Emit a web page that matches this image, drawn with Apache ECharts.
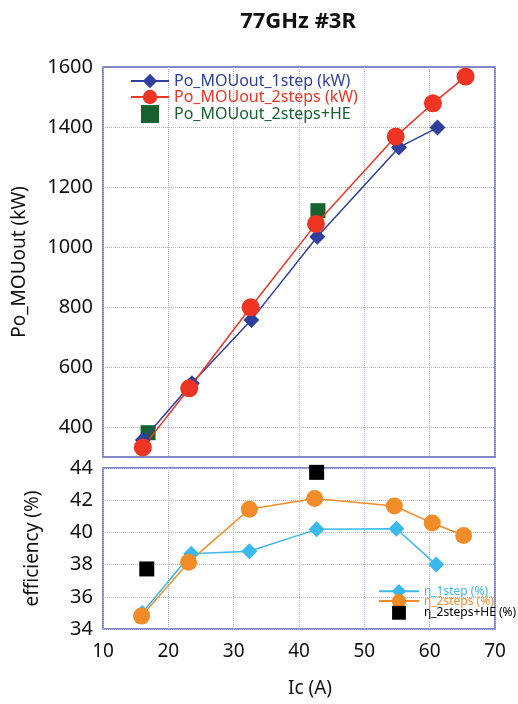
<!DOCTYPE html>
<html><head><meta charset="utf-8">
<script src="https://cdn.jsdelivr.net/npm/echarts@6/dist/echarts.min.js"></script>
<style>html,body{margin:0;padding:0;background:#fff}#c{width:518px;height:704px}</style>
</head><body><div id="c"></div>
<script>
const titleText = '77GHz #3R';
const xTicks = [10, 20, 30, 40, 50, 60, 70];
const powerTicks = [400, 600, 800, 1000, 1200, 1400, 1600];
const effTicks = [34, 36, 38, 40, 42, 44];
// Power (kW)
const p1stepX = [16.1, 23.6, 32.7, 42.8, 55.3, 61.2];
const p1stepY = [357, 546, 757, 1034, 1332, 1398];
const p2stepsX = [16.1, 23.2, 32.6, 42.6, 54.8, 60.5, 65.5];
const p2stepsY = [332, 529, 799, 1077, 1368, 1479, 1568];
const pHEX = [16.9, 42.9];
const pHEY = [381, 1121];
// Efficiency (%)
const e1stepX = [16.0, 23.5, 32.4, 42.7, 54.9, 61.0];
const e1stepY = [35.0, 38.67, 38.83, 40.19, 40.23, 38.0];
const e2stepsX = [15.9, 23.1, 32.4, 42.4, 54.6, 60.4, 65.2];
const e2stepsY = [34.8, 38.15, 41.44, 42.1, 41.64, 40.58, 39.81];
const eHEX = [16.7, 42.7];
const eHEY = [37.73, 43.73];

const names = {
  p1: 'Po_MOUout_1step (kW)', p2: 'Po_MOUout_2steps (kW)', pHE: 'Po_MOUout_2steps+HE',
  e1: 'η_1step (%)', e2: 'η_2steps (%)', eHE: 'η_2steps+HE (%)'
};
const col = { p1: '#2e3f9e', p2: '#ee3524', pHE: '#17612f', e1: '#3bb9ec', e2: '#f28c28', eHE: '#000000' };
const zip = (a, b) => a.map((v, i) => [v, b[i]]);
const FONT = 'Noto Sans';
const frame = '#5b62b5';
const gridStyle = { color: '#aab0e0', type: 'dotted', width: 1 };
const gridLine = { show: true, lineStyle: gridStyle };
const squareIcon = 'path://M0,0L10,0L10,10L0,10Z';
const squareIconSmall = 'path://M-1,-1.5L-1,-1.5M11,11.5L11,11.5M0,0L10,0L10,10L0,10Z';

const chart = echarts.init(document.getElementById('c'), null, { renderer: 'canvas' });
chart.setOption({
  animation: false,
  textStyle: { fontFamily: FONT },
  title: { text: titleText, left: 293, textAlign: 'center', top: 6,
    textStyle: { fontFamily: FONT, fontSize: 22, fontWeight: 'bold', color: '#111' } },
  grid: [
    { left: 103, top: 67, width: 392, height: 390, show: true, borderColor: frame, borderWidth: 1.5, backgroundColor: 'transparent' },
    { left: 103, top: 468, width: 392, height: 161, show: true, borderColor: frame, borderWidth: 1.5, backgroundColor: 'transparent' }
  ],
  xAxis: [
    { gridIndex: 0, type: 'value', min: xTicks[0], max: xTicks[xTicks.length - 1], interval: 10, axisLine: { show: false }, axisTick: { show: false },
      axisLabel: { show: false }, splitLine: gridLine },
    { gridIndex: 1, type: 'value', min: xTicks[0], max: xTicks[xTicks.length - 1], interval: 10, axisLine: { show: false }, axisTick: { show: false },
      axisLabel: { show: true, color: '#111', fontSize: 19, margin: 13, fontFamily: FONT }, splitLine: gridLine,
      name: 'Ic (A)', nameLocation: 'middle', nameGap: 50,
      nameTextStyle: { color: '#111', fontSize: 19, fontFamily: FONT, padding: [0, 0, 0, 22] } }
  ],
  yAxis: [
    { gridIndex: 0, type: 'value', min: 300, max: 1600, interval: 100, axisLine: { show: false }, axisTick: { show: false },
      axisLabel: { color: '#111', fontSize: 20, margin: 10, fontFamily: FONT,
        formatter: v => powerTicks.indexOf(v) >= 0 ? String(v) : '' },
      splitLine: { show: false },
      name: 'Po_MOUout (kW)', nameLocation: 'middle', nameGap: 74,
      nameTextStyle: { color: '#111', fontSize: 19, fontFamily: FONT } },
    { gridIndex: 1, type: 'value', min: effTicks[0], max: effTicks[effTicks.length - 1], interval: 2, axisLine: { show: false }, axisTick: { show: false },
      axisLabel: { color: '#111', fontSize: 20, margin: 10, fontFamily: FONT }, splitLine: gridLine,
      name: 'efficiency (%)', nameLocation: 'middle', nameGap: 61,
      nameTextStyle: { color: '#111', fontSize: 19, fontFamily: FONT } }
  ],
  legend: [
    { left: 130, top: 73, padding: 0, orient: 'vertical', itemWidth: 38, itemHeight: 18, itemGap: 0,
      textStyle: { fontSize: 16, fontFamily: FONT },
      data: [
        { name: names.p1, textStyle: { color: col.p1 } },
        { name: names.p2, textStyle: { color: col.p2 } },
        { name: names.pHE, icon: squareIcon, textStyle: { color: col.pHE } }
      ] },
    { left: 378, top: 584, padding: 0, orient: 'vertical', itemWidth: 40, itemHeight: 18, itemGap: -4.5,
      textStyle: { fontSize: 12, fontFamily: FONT },
      data: [
        { name: names.e1, textStyle: { color: col.e1 } },
        { name: names.e2, textStyle: { color: col.e2 } },
        { name: names.eHE, icon: squareIconSmall, textStyle: { color: col.eHE } }
      ] }
  ],
  series: [
    { name: names.p1, type: 'line', xAxisIndex: 0, yAxisIndex: 0, data: zip(p1stepX, p1stepY),
      symbol: 'diamond', symbolSize: 16, color: col.p1, lineStyle: { width: 1.5, color: col.p1 }, itemStyle: { color: col.p1 },
      markLine: { silent: true, symbol: ['none', 'none'], label: { show: false }, lineStyle: gridStyle, z: 0,
        data: powerTicks.slice(0, -1).map(v => ({ yAxis: v })) } },
    { name: names.p2, type: 'line', xAxisIndex: 0, yAxisIndex: 0, data: zip(p2stepsX, p2stepsY),
      symbol: 'circle', symbolSize: 18, color: col.p2, lineStyle: { width: 1.5, color: col.p2 }, itemStyle: { color: col.p2 } },
    { name: names.pHE, type: 'scatter', xAxisIndex: 0, yAxisIndex: 0, data: zip(pHEX, pHEY),
      symbol: 'rect', symbolSize: 15, color: col.pHE, itemStyle: { color: col.pHE, opacity: 1 } },
    { name: names.e1, type: 'line', xAxisIndex: 1, yAxisIndex: 1, data: zip(e1stepX, e1stepY),
      symbol: 'diamond', symbolSize: 16, color: col.e1, lineStyle: { width: 1.5, color: col.e1 }, itemStyle: { color: col.e1 } },
    { name: names.e2, type: 'line', xAxisIndex: 1, yAxisIndex: 1, data: zip(e2stepsX, e2stepsY),
      symbol: 'circle', symbolSize: 17, color: col.e2, lineStyle: { width: 1.5, color: col.e2 }, itemStyle: { color: col.e2 } },
    { name: names.eHE, type: 'scatter', xAxisIndex: 1, yAxisIndex: 1, data: zip(eHEX, eHEY),
      symbol: 'rect', symbolSize: 15, color: col.eHE, itemStyle: { color: col.eHE, opacity: 1 } }
  ]
});
</script></body></html>
